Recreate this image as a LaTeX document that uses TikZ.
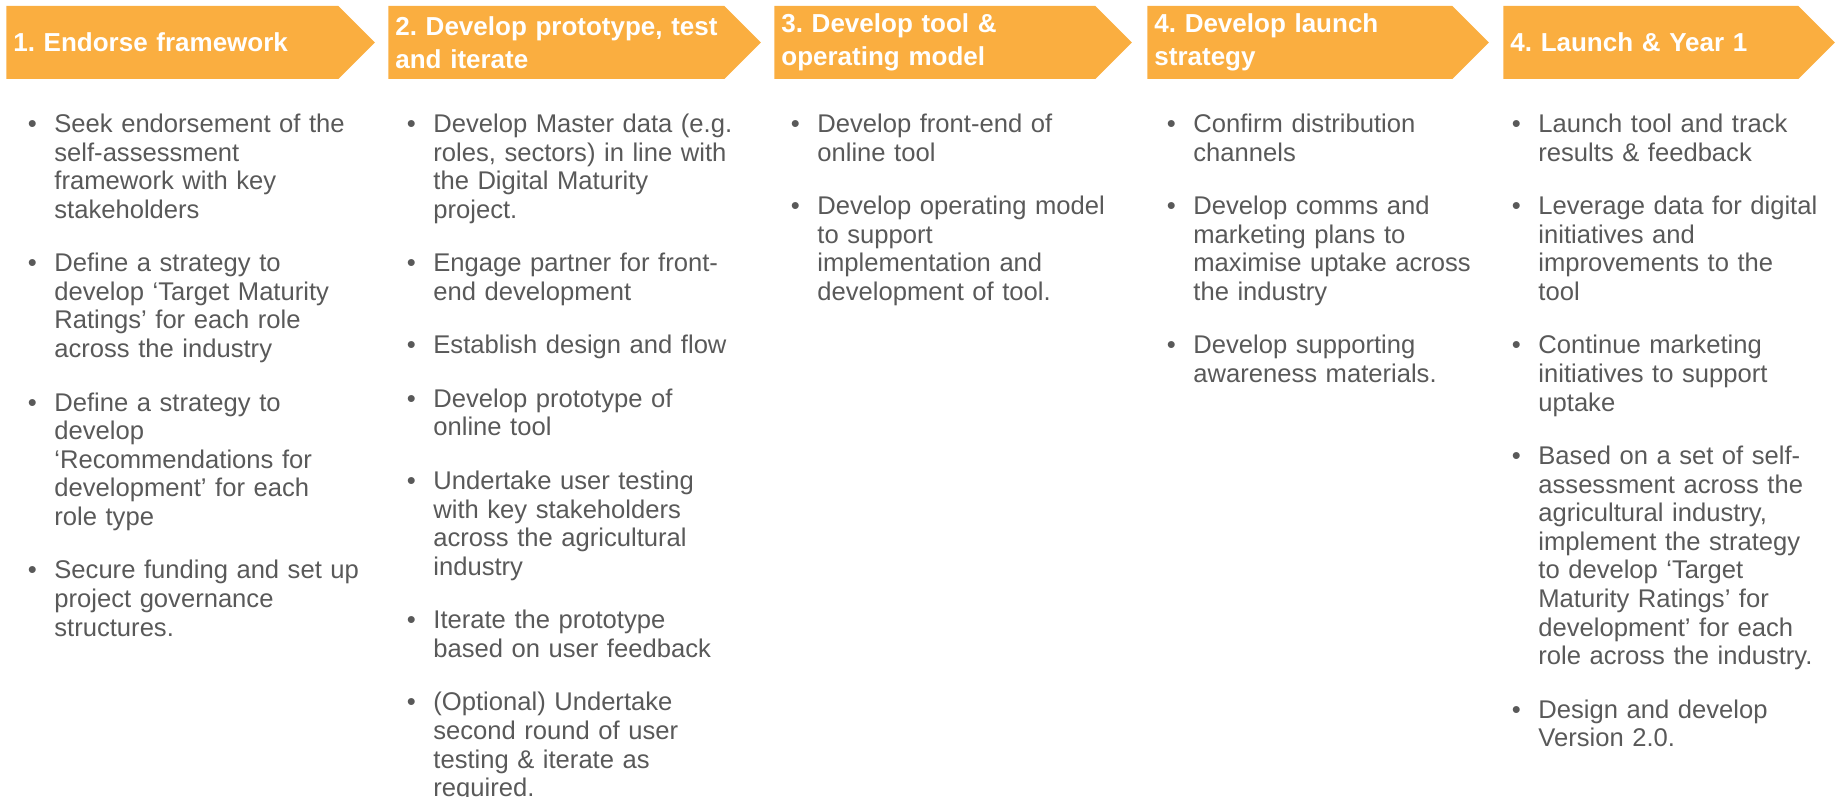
\documentclass[tikz,border=0pt]{standalone}
\usepackage{fontspec}
\setmainfont{Liberation Sans}
\usepackage{xcolor}
\usepackage{tikz}
\usetikzlibrary{positioning}
\usetikzlibrary{shapes.symbols}
\definecolor{phaseor}{RGB}{250,174,64}
\definecolor{textgr}{RGB}{89,89,89}
\frenchspacing
\hfuzz=20pt
\tikzset{
  phase/.style = {signal, signal to=east, signal pointer angle=90,
    fill=phaseor, text=white, anchor=west, align=left,
    font=\fontsize{13}{16.3}\selectfont\bfseries,
    inner xsep=3.5pt, inner ysep=0pt, minimum height=36.5pt},% fleche de phase
  item/.style = {text=textgr, anchor=north west, align=left,
    text width=185pt, inner sep=0pt,
    font=\fontsize{12.8}{14.3}\selectfont,
    execute at begin node={\leftskip=22pt\llap{\makebox[22pt]{\textbullet}}\strut},
    execute at end node=\strut}% puce et texte
}

\begin{document}
\begin{tikzpicture}[x=0.5pt, y=-0.5pt, node distance=12.05pt]
\useasboundingbox (0,0) rectangle (1837,797);
% phases
\node [phase, text width=159pt] (p1) at (6,42.5) {1. Endorse framework};
\node [phase, text width=161pt] (p2) at (388,42.5) {\mbox{2. Develop prototype, test}\\and iterate};
\node [phase, text width=153.5pt] (p3) at (774,42.5) {3. Develop tool \&\\operating model};
\node [phase, text width=145.5pt] (p4) at (1147,42.5) {4. Develop launch\\strategy};
\node [phase, text width=140.5pt] (p5) at (1503,42.5) {4. Launch \& Year 1};

% colonne 1
\node [item] (p1a) at (10,112) {Seek endorsement of the\\self-assessment\\framework with key\\stakeholders};
\node [item, below=of p1a] (p1b) {Define a strategy to\\develop ‘Target Maturity\\Ratings’ for each role\\across the industry};
\node [item, below=of p1b] (p1c) {Define a strategy to\\develop\\‘Recommendations for\\development’ for each\\role type};
\node [item, below=of p1c] (p1d) {Secure funding and set up\\project governance\\structures.};

% colonne 2
\node [item] (p2a) at (389,112) {Develop Master data (e.g.\\roles, sectors) in line with\\the Digital Maturity\\project.};
\node [item, below=of p2a] (p2b) {Engage partner for front-\\end development};
\node [item, below=of p2b] (p2c) {Establish design and flow};
\node [item, below=of p2c] (p2d) {Develop prototype of\\online tool};
\node [item, below=of p2d] (p2e) {Undertake user testing\\with key stakeholders\\across the agricultural\\industry};
\node [item, below=of p2e] (p2f) {Iterate the prototype\\based on user feedback};
\node [item, below=of p2f] (p2g) {(Optional) Undertake\\second round of user\\testing \& iterate as\\required.};

% colonne 3
\node [item] (p3a) at (773,112) {Develop front-end of\\online tool};
\node [item, below=of p3a] (p3b) {Develop operating model\\to support\\implementation and\\development of tool.};

% colonne 4
\node [item] (p4a) at (1149,112) {Confirm distribution\\channels};
\node [item, below=of p4a] (p4b) {Develop comms and\\marketing plans to\\maximise uptake across\\the industry};
\node [item, below=of p4b] (p4c) {Develop supporting\\awareness materials.};

% colonne 5
\node [item] (p5a) at (1494,112) {Launch tool and track\\results \& feedback};
\node [item, below=of p5a] (p5b) {Leverage data for digital\\initiatives and\\improvements to the\\tool};
\node [item, below=of p5b] (p5c) {Continue marketing\\initiatives to support\\uptake};
\node [item, below=of p5c] (p5d) {Based on a set of self-\\assessment across the\\agricultural industry,\\implement the strategy\\to develop ‘Target\\Maturity Ratings’ for\\development’ for each\\role across the industry.};
\node [item, below=of p5d] (p5e) {Design and develop\\Version 2.0.};
\end{tikzpicture}
\end{document}
